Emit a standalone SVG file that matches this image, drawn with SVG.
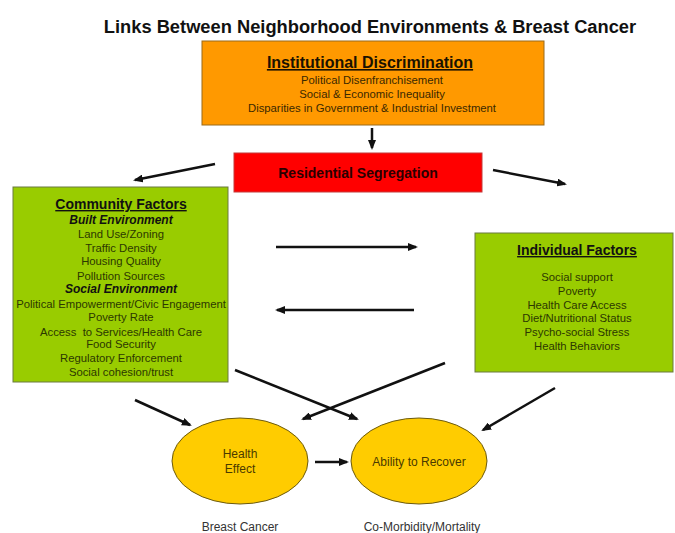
<svg xmlns="http://www.w3.org/2000/svg" width="675" height="533" viewBox="0 0 675 533">
<style>
text{font-family:"Liberation Sans",Arial,sans-serif;text-anchor:middle}
.title{font-size:18.3px;font-weight:bold;fill:#111}
.head{font-size:16px;font-weight:bold;fill:#1a1200;text-decoration:underline}
.ghead{font-size:14px;font-weight:bold;fill:#111;text-decoration:underline}
.sub{font-size:12px;font-weight:bold;font-style:italic;fill:#111}
.oi{font-size:11.3px;fill:#3a2800}
.gi{font-size:11.3px;fill:#2c3800}
.el{font-size:12px;fill:#4a3a00}
.cap{font-size:12px;fill:#333}
.seg{font-size:14px;font-weight:bold;fill:#2a0000}
.conn line{stroke:#111;stroke-width:2.5;marker-end:url(#ah)}
</style>
<defs>
<marker id="ah" viewBox="0 0 10 8" refX="8" refY="4" markerWidth="10" markerHeight="8" markerUnits="userSpaceOnUse" orient="auto">
<path d="M0,0 L10,4 L0,8 Z" fill="#111"/>
</marker>
</defs>
<rect width="675" height="533" fill="#fff"/>
<text class="title" x="370" y="33">Links Between Neighborhood Environments &amp; Breast Cancer</text>

<g id="institutional">
<rect x="202" y="41" width="342" height="84" fill="#ff9900" stroke="#9a6a1a" stroke-width="1"/>
<text class="head" x="370" y="68">Institutional Discrimination</text>
<text class="oi" x="372" y="84">Political Disenfranchisement</text>
<text class="oi" x="372" y="98">Social &amp; Economic Inequality</text>
<text class="oi" x="372" y="112">Disparities in Government &amp; Industrial Investment</text>
</g>

<g id="segregation">
<rect x="234" y="153" width="248" height="39" fill="#ff0000" stroke="#c43a3a" stroke-width="1"/>
<text class="seg" x="358" y="178">Residential Segregation</text>
</g>

<g id="community">
<rect x="13" y="187" width="215" height="195" fill="#99cc00" stroke="#6a7a40" stroke-width="1"/>
<text class="ghead" x="121" y="209">Community Factors</text>
<text class="sub" x="121" y="224">Built Environment</text>
<text class="gi" x="121" y="238">Land Use/Zoning</text>
<text class="gi" x="121" y="252">Traffic Density</text>
<text class="gi" x="121" y="265">Housing Quality</text>
<text class="gi" x="121" y="280">Pollution Sources</text>
<text class="sub" x="121" y="293">Social Environment</text>
<text class="gi" x="121" y="308">Political Empowerment/Civic Engagement</text>
<text class="gi" x="121" y="321">Poverty Rate</text>
<text class="gi" x="121" y="336" xml:space="preserve">Access  to Services/Health Care</text>
<text class="gi" x="121" y="348">Food Security</text>
<text class="gi" x="121" y="362">Regulatory Enforcement</text>
<text class="gi" x="121" y="376">Social cohesion/trust</text>
</g>

<g id="individual">
<rect x="475" y="233" width="198" height="139" fill="#99cc00" stroke="#6a7a40" stroke-width="1"/>
<text class="ghead" x="577" y="255">Individual Factors</text>
<text class="gi" x="577" y="281">Social support</text>
<text class="gi" x="577" y="295">Poverty</text>
<text class="gi" x="577" y="309">Health Care Access</text>
<text class="gi" x="577" y="322">Diet/Nutritional Status</text>
<text class="gi" x="577" y="336">Psycho-social Stress</text>
<text class="gi" x="577" y="350">Health Behaviors</text>
</g>

<g id="health-effect">
<ellipse cx="240" cy="461" rx="68" ry="43" fill="#ffcc00" stroke="#6b5a10" stroke-width="1"/>
<text class="el" x="240" y="458">Health</text>
<text class="el" x="240" y="473">Effect</text>
</g>

<g id="ability">
<ellipse cx="419" cy="461" rx="68" ry="43" fill="#ffcc00" stroke="#6b5a10" stroke-width="1"/>
<text class="el" x="419" y="466">Ability to Recover</text>
</g>

<g id="captions">
<text class="cap" x="240" y="531">Breast Cancer</text>
<text class="cap" x="422" y="531">Co-Morbidity/Mortality</text>
</g>

<g id="connectors" class="conn">
<line x1="372" y1="128" x2="372" y2="148"/>
<line x1="215" y1="164" x2="135" y2="180"/>
<line x1="493" y1="170" x2="565" y2="184"/>
<line x1="276" y1="247" x2="416" y2="247"/>
<line x1="414" y1="310" x2="277" y2="310"/>
<line x1="135" y1="400" x2="190" y2="425"/>
<line x1="235" y1="370" x2="357" y2="419"/>
<line x1="445" y1="363" x2="303" y2="419"/>
<line x1="555" y1="388" x2="483" y2="430"/>
<line x1="315" y1="462" x2="347" y2="462"/>
</g>
</svg>
